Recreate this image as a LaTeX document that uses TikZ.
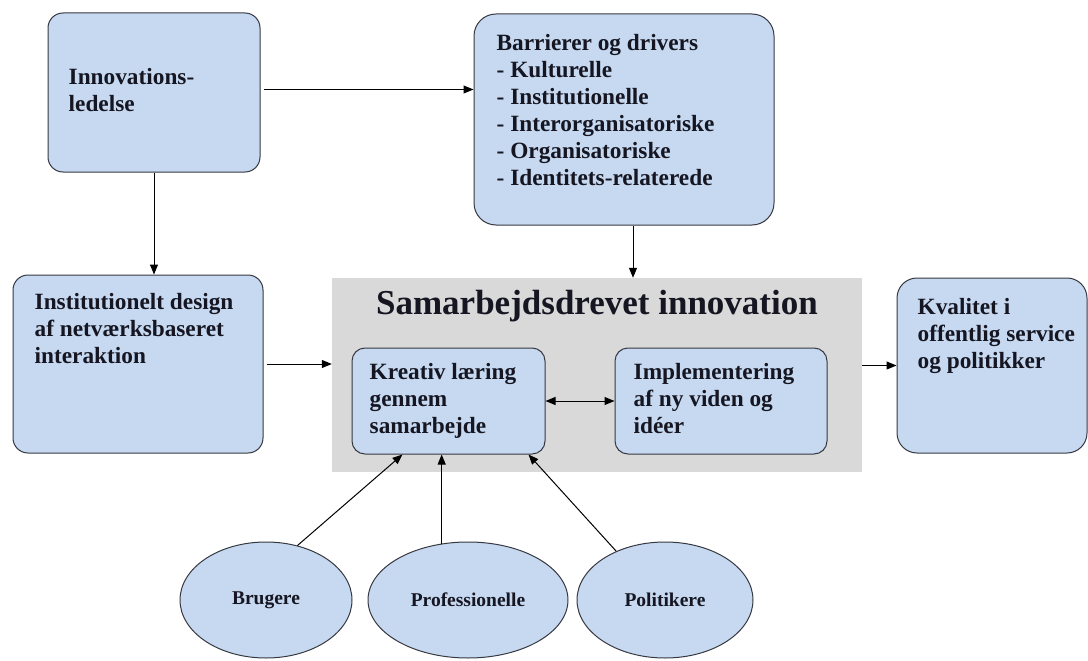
\documentclass[tikz,border=0pt]{standalone}
\usepackage{fontspec}
\setmainfont{Liberation Serif}
\usepackage{xcolor}
\usetikzlibrary{shapes.geometric, arrows.meta, positioning, calc}
\definecolor{boxblue}{RGB}{198,217,240}
\definecolor{panelgray}{RGB}{217,217,217}
\definecolor{boxline}{RGB}{55,57,66}
\definecolor{ink}{RGB}{22,22,34}
\tikzstyle{arrow} = [line width=1pt, -{Triangle[length=10pt,width=8pt]}]
\tikzstyle{dblarrow} = [line width=1pt, {Triangle[length=10pt,width=8pt]}-{Triangle[length=10pt,width=8pt]}]
\tikzstyle{box} = [draw=boxline, fill=boxblue, line width=1pt, rounded corners=15pt, inner sep=0pt]
\tikzstyle{boxtext} = [anchor=north west, align=left, inner sep=0pt, text=ink, font=\fontsize{23.3}{27}\selectfont\bfseries]
\tikzstyle{bubble} = [ellipse, draw=boxline, fill=boxblue, line width=1pt, inner sep=0pt, text=ink, font=\fontsize{19.5}{22}\selectfont\bfseries]

\begin{document}
\begin{tikzpicture}[x=1pt, y=-1pt]
    \useasboundingbox (0,0) rectangle (1088,661);

    % Gray panel
    \node[fill=panelgray, minimum width=530pt, minimum height=194pt, inner sep=0pt] (panel) at (597,375) {};
    \node[anchor=base, text=ink, font=\fontsize{35}{40}\selectfont\bfseries] (title) at (597,314) {Samarbejdsdrevet innovation};

    % Boxes
    \node[box, minimum width=212pt, minimum height=159pt] (innov) at (154,92.5) {};
    \node[box, rounded corners=22pt, minimum width=300pt, minimum height=211pt] (barr) at (624,119.5) {};
    \node[box, minimum width=250pt, minimum height=178pt] (inst) at (138,364) {};
    \node[box, minimum width=193pt, minimum height=106pt, rounded corners=13pt] (kreativ) at (448.5,401) {};
    \node[box, minimum width=212pt, minimum height=106pt, rounded corners=13pt] (impl) at (721,401) {};
    \node[box, rounded corners=20pt, minimum width=190pt, minimum height=175pt] (kval) at (992,365.5) {};

    % Box texts
    \node[boxtext, below right=56pt and 21pt of innov.north west] (innov-txt) {Innovations-\\ledelse};
    \node[boxtext, below right=21pt and 23pt of barr.north west] (barr-txt) {Barrierer og drivers\\- Kulturelle\\- Institutionelle\\- Interorganisatoriske\\- Organisatoriske\\- Identitets-relaterede};
    \node[boxtext, below right=19pt and 22pt of inst.north west] (inst-txt) {Institutionelt design\\af netværksbaseret\\interaktion};
    \node[boxtext, below right=16pt and 18pt of kreativ.north west] (kreativ-txt) {Kreativ læring\\gennem\\samarbejde};
    \node[boxtext, below right=16pt and 19pt of impl.north west] (impl-txt) {Implementering\\af ny viden og\\idéer};
    \node[boxtext, below right=21pt and 21pt of kval.north west] (kval-txt) {Kvalitet i\\offentlig service\\og politikker};

    % Actors
    \node[bubble, minimum width=172pt, minimum height=116pt] (brug) at (266,600) {Brugere};
    \node[bubble, minimum width=200pt, minimum height=116pt] (prof) at (468,600) {Professionelle};
    \node[bubble, minimum width=176pt, minimum height=116pt] (poli) at (665,600) {Politikere};

    % Connectors
    \draw[arrow, shorten <=3pt] ([yshift=3pt]innov.east) -- ([yshift=3pt]innov.east -| barr.west);
    \draw[arrow] (innov.south) -- (innov.south |- inst.north);
    \draw[arrow] ([xshift=9pt]barr.south) -- ([xshift=9pt]barr.south |- panel.north);
    \draw[arrow, shorten <=3pt] (inst.east) -- (inst.east -| panel.west);
    \draw[arrow] (panel.east |- kval.west) -- (kval.west);
    \draw[dblarrow] (kreativ.east) -- (impl.west);
    \draw[arrow] (brug.60) -- ([xshift=-46pt]kreativ.south);
    \draw[arrow] (prof.115) -- (prof.115 |- kreativ.south);
    \draw[arrow] (poli.135) -- ([xshift=80pt]kreativ.south);
\end{tikzpicture}
\end{document}
